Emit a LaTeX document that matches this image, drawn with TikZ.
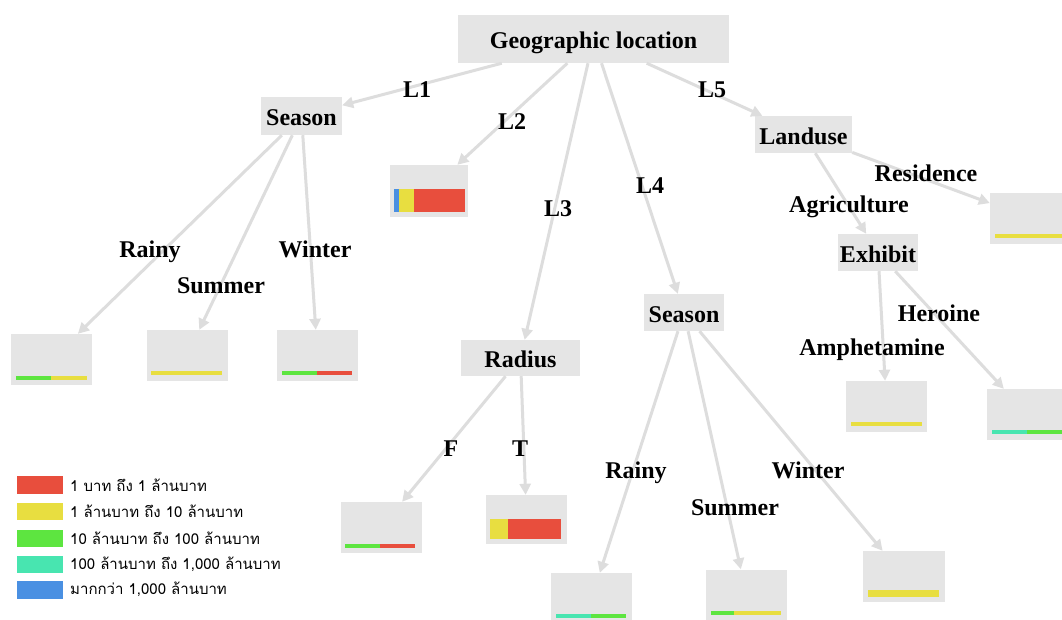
\documentclass[tikz,border=0pt]{standalone}
\usepackage{fontspec}
\setmainfont{Liberation Serif}
\newfontfamily\thaifont[Script=Thai]{Loma}
\usetikzlibrary{arrows.meta}
\definecolor{boxgray}{HTML}{E5E5E5}
\definecolor{edgegray}{HTML}{DDDDDD}
\definecolor{cred}{HTML}{E84E3D}
\definecolor{cyellow}{HTML}{E8DE40}
\definecolor{cgreen}{HTML}{5DE540}
\definecolor{cteal}{HTML}{48E5B0}
\definecolor{cblue}{HTML}{4A90E2}
\tikzset{
  inner/.style={fill=boxgray, inner sep=0pt, text height=22pt, text depth=3pt,
    font=\bfseries\fontsize{24}{26}\selectfont},
  leaf/.style={fill=boxgray, inner sep=0pt, minimum width=81pt, minimum height=51pt},
  lbl/.style={inner sep=0pt, text height=20pt, text depth=4pt,
    font=\bfseries\fontsize{24}{26}\selectfont},
  edge/.style={draw=edgegray, line width=3pt, -{Triangle[length=11pt,width=11pt]}},
  key/.style={inner sep=0pt, anchor=west, font=\thaifont\fontsize{15}{17}\selectfont},
}
\begin{document}
\begin{tikzpicture}[x=1pt, y=-1pt]
\useasboundingbox[fill=white] (0,0) rectangle (1062,619);

% internal nodes
\node[inner, minimum width=271pt, minimum height=48pt] (geo) at (593.5,39) {Geographic location};
\node[inner, minimum width=81pt, minimum height=38pt] (season1) at (301.5,116) {Season};
\node[inner, minimum width=119pt, minimum height=36pt] (radius) at (520.5,358) {Radius};
\node[inner, minimum width=80pt, minimum height=37pt] (season4) at (684,312.5) {Season};
\node[inner, minimum width=97pt, minimum height=37pt] (landuse) at (803.5,134.5) {Landuse};
\node[inner, minimum width=80pt, minimum height=37pt] (exhibit) at (878,252.5) {Exhibit};

% leaf nodes
\node[leaf] (lrainy1) at (51.5,359.5) {};
\node[leaf] (lsummer1) at (187,355.5) {};
\node[leaf] (lwinter1) at (317.5,355.5) {};
\node[leaf, minimum width=78pt, minimum height=52pt] (ll2) at (429,191) {};
\node[leaf] (lf) at (381,527.5) {};
\node[leaf, minimum height=49pt] (lt) at (526.5,519.5) {};
\node[leaf] (lrainy4) at (591.5,598.5) {};
\node[leaf] (lsummer4) at (746.5,595) {};
\node[leaf, minimum width=82pt] (lwinter4) at (904,576.5) {};
\node[leaf] (lamph) at (886.5,406.5) {};
\node[leaf] (lhero) at (1027.5,414.5) {};
\node[leaf] (lres) at (1030.5,218) {};

% value bars inside the leaves
\fill[cgreen] (16,376) rectangle (51,380);
\fill[cyellow] (51,376) rectangle (87,380);
\fill[cyellow] (151,371) rectangle (222,375);
\fill[cgreen] (282,371) rectangle (317,375);
\fill[cred] (317,371) rectangle (352,375);
\fill[cblue] (394,189) rectangle (399,212);
\fill[cyellow] (399,189) rectangle (414,212);
\fill[cred] (414,189) rectangle (465,212);
\fill[cgreen] (345,543.5) rectangle (380,547.5);
\fill[cred] (380,543.5) rectangle (415,547.5);
\fill[cyellow] (490,519) rectangle (508,539);
\fill[cred] (508,519) rectangle (561,539);
\fill[cteal] (556,614) rectangle (591,618);
\fill[cgreen] (591,614) rectangle (626,618);
\fill[cgreen] (711,611) rectangle (734,615);
\fill[cyellow] (734,611) rectangle (781,615);
\fill[cyellow] (868,589.5) rectangle (939,596.5);
\fill[cyellow] (851,422) rectangle (922,426);
\fill[cteal] (992,430) rectangle (1027,434);
\fill[cgreen] (1027,430) rectangle (1062,434);
\fill[cyellow] (995,234) rectangle (1066,238);

% connectors
\draw[edge] (geo) -- (season1);
\draw[edge] (geo) -- (ll2);
\draw[edge] (geo) -- (radius);
\draw[edge] (geo) -- (season4);
\draw[edge] (geo) -- (landuse);
\draw[edge] (season1) -- (lrainy1);
\draw[edge] (season1) -- (lsummer1);
\draw[edge] (season1) -- (lwinter1);
\draw[edge] (radius) -- (lf);
\draw[edge] (radius) -- (lt);
\draw[edge] (season4) -- (lrainy4);
\draw[edge] (season4) -- (lsummer4);
\draw[edge] (season4) -- (lwinter4);
\draw[edge] (landuse) -- (exhibit);
\draw[edge] (landuse) -- (lres);
\draw[edge] (exhibit) -- (lamph);
\draw[edge] (exhibit) -- (lhero);

% connector labels
\node[lbl] (t1) at (417,89) {L1};
\node[lbl] (t2) at (512,121) {L2};
\node[lbl] (t3) at (558,208) {L3};
\node[lbl] (t4) at (650,185) {L4};
\node[lbl] (t5) at (712,89) {L5};
\node[lbl] (trainy1) at (150,249) {Rainy};
\node[lbl] (tsummer1) at (221,285) {Summer};
\node[lbl] (twinter1) at (315,249) {Winter};
\node[lbl] (tf) at (451,448) {F};
\node[lbl] (tt) at (520,448) {T};
\node[lbl] (trainy4) at (636,470) {Rainy};
\node[lbl] (tsummer4) at (735,507) {Summer};
\node[lbl] (twinter4) at (808,470) {Winter};
\node[lbl] (tres) at (926,173) {Residence};
\node[lbl] (tagri) at (849,204) {Agriculture};
\node[lbl] (thero) at (939,313) {Heroine};
\node[lbl] (tamph) at (872,347) {Amphetamine};

% legend
\fill[cred] (17,476) rectangle (63,493.5);
\fill[cyellow] (17,502.5) rectangle (63,520);
\fill[cgreen] (17,529.5) rectangle (63,547);
\fill[cteal] (17,555.5) rectangle (63,573);
\fill[cblue] (17,581) rectangle (63,598.5);
\node[key] (k1) at (70,485) {1 บาท ถึง 1 ล้านบาท};
\node[key] (k2) at (70,511) {1 ล้านบาท ถึง 10 ล้านบาท};
\node[key] (k3) at (70,538) {10 ล้านบาท ถึง 100 ล้านบาท};
\node[key] (k4) at (70,564) {100 ล้านบาท ถึง 1,000 ล้านบาท};
\node[key] (k5) at (70,589.5) {มากกว่า 1,000 ล้านบาท};
\end{tikzpicture}
\end{document}
